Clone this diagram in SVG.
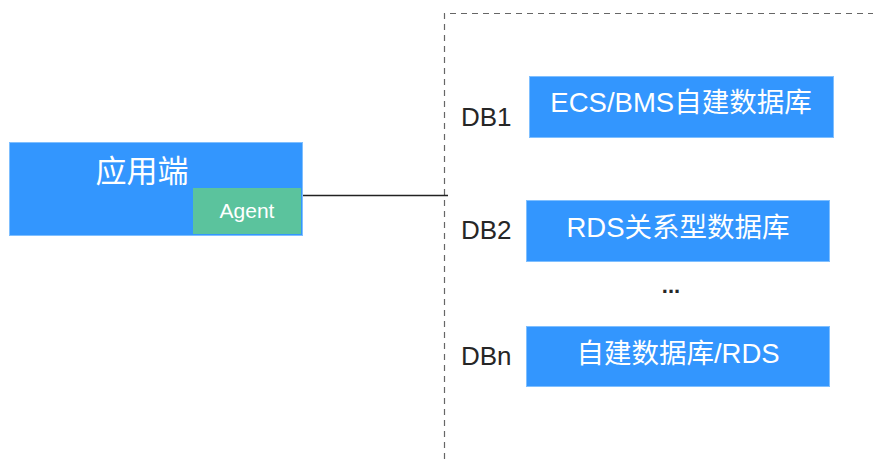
<svg xmlns="http://www.w3.org/2000/svg" width="873" height="461" viewBox="0 0 873 461">
<style>
.blue{fill:#3396fe;stroke:#7fbfff;stroke-width:1}
.wt{fill:#ffffff;font-family:"Liberation Sans","Noto Sans CJK SC",sans-serif;text-anchor:middle}
.bt{font-size:27.5px}
.lbl{fill:#262626;font-family:"Liberation Sans","Noto Sans CJK SC",sans-serif;font-size:26px}
</style>
<rect width="873" height="461" fill="#ffffff"/>
<path d="M444.5 459 V13.5 H873" fill="none" stroke="#666" stroke-width="1.2" stroke-dasharray="6,5"/>
<g id="connectors">
<line x1="302" y1="195.5" x2="448" y2="195.5" stroke="#222" stroke-width="1.3"/>
</g>
<g id="app">
<rect class="blue" x="9.5" y="142.5" width="293" height="93"/>
<text class="wt" x="142" y="182" font-size="31">应用端</text>
</g>
<g id="agent">
<rect x="193" y="188" width="108" height="46" fill="#5bc39d"/>
<text class="wt" x="247" y="218" font-size="21">Agent</text>
</g>
<g id="db1">
<text class="lbl" x="461" y="126">DB1</text>
<rect class="blue" x="529.5" y="76.5" width="304" height="61"/>
<text class="wt bt" x="681" y="112">ECS/BMS自建数据库</text>
</g>
<g id="db2">
<text class="lbl" x="461" y="239">DB2</text>
<rect class="blue" x="526.5" y="200.5" width="303" height="61"/>
<text class="wt bt" x="678" y="237">RDS关系型数据库</text>
</g>
<text x="671" y="293" fill="#262626" font-family="Liberation Sans,sans-serif" font-size="22" text-anchor="middle" font-weight="bold">...</text>
<g id="dbn">
<text class="lbl" x="461" y="365">DBn</text>
<rect class="blue" x="526.5" y="326.5" width="303" height="60"/>
<text class="wt bt" x="678" y="363">自建数据库/RDS</text>
</g>
</svg>
